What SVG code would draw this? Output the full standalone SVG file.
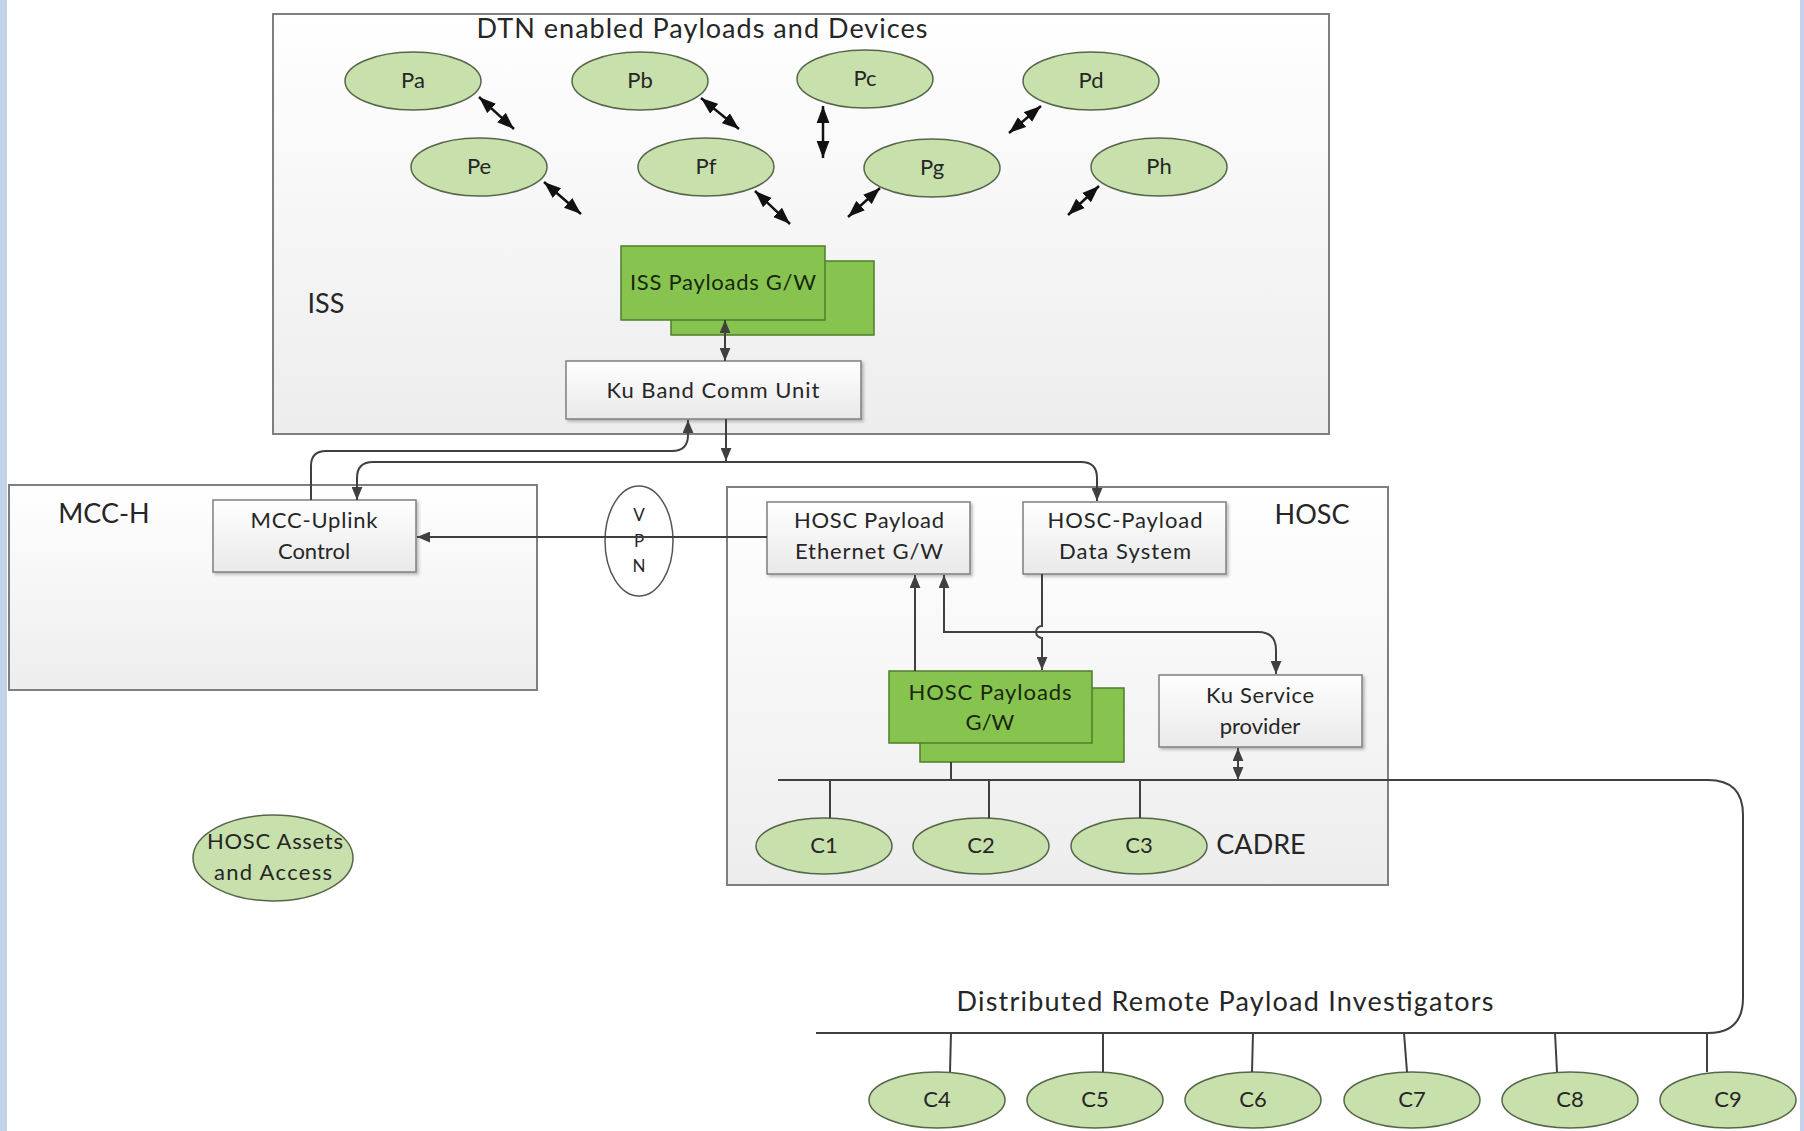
<svg xmlns="http://www.w3.org/2000/svg" width="1804" height="1131" viewBox="0 0 1804 1131">
<defs>
<linearGradient id="gCont" x1="0" y1="0" x2="0" y2="1"><stop offset="0" stop-color="#ffffff"/><stop offset="1" stop-color="#ededed"/></linearGradient>
<linearGradient id="gBox" x1="0" y1="0" x2="0" y2="1"><stop offset="0" stop-color="#ffffff"/><stop offset="1" stop-color="#e9e9e9"/></linearGradient>
<filter id="sh" x="-5%" y="-5%" width="115%" height="125%"><feDropShadow dx="2" dy="2" stdDeviation="1.5" flood-color="#000" flood-opacity="0.25"/></filter>
<marker id="ah" viewBox="0 0 12 10" refX="12" refY="5" markerWidth="13" markerHeight="11" markerUnits="userSpaceOnUse" orient="auto-start-reverse"><path d="M0,0 L12,5 L0,10 z" fill="#404040"/></marker>
<marker id="bh" viewBox="0 0 16 12" refX="16" refY="6" markerWidth="17" markerHeight="14" markerUnits="userSpaceOnUse" orient="auto-start-reverse"><path d="M0,0 L16,6 L0,12 z" fill="#111"/></marker>
<style>
text{font-family:Lato,"Liberation Sans",sans-serif;fill:#262626;text-anchor:middle}
.big{font-size:27px}
.lbl{font-size:22px}
.gtx{font-size:22px;fill:#1a2610}
.cont{fill:url(#gCont);stroke:#7f7f7f;stroke-width:2}
.box{fill:url(#gBox);stroke:#7f7f7f;stroke-width:1.5;filter:url(#sh)}
.green{fill:#86c44f;stroke:#4f7d2a;stroke-width:1.5}
.ell{fill:#c8e0ac;stroke:#55664a;stroke-width:1.5}
.conn{fill:none;stroke:#404040;stroke-width:2}
.dbl{fill:none;stroke:#111;stroke-width:2.5;marker-start:url(#bh);marker-end:url(#bh)}
</style>
</defs>
<rect x="0" y="0" width="1804" height="1131" fill="#ffffff"/>
<rect x="0" y="0" width="7" height="1131" fill="#c3d4ea"/>
<rect x="1800" y="0" width="4" height="1131" fill="#c3d4ea"/>

<g id="containers">
<g id="iss"><rect class="cont" x="273" y="14" width="1056" height="420"/>
<text class="big" x="702" y="38" textLength="451" lengthAdjust="spacing">DTN enabled Payloads and Devices</text>
<text class="big" x="326" y="313">ISS</text></g>
<g id="mcch"><rect class="cont" x="9" y="485" width="528" height="205"/>
<text class="big" x="104" y="523">MCC-H</text></g>
<g id="hosc"><rect class="cont" x="727" y="487" width="661" height="398"/>
<text class="big" x="1312" y="524">HOSC</text>
<text class="big" x="1261" y="854">CADRE</text></g>
</g>

<g id="nodes">
<g id="Pa"><ellipse class="ell" cx="413" cy="81" rx="68" ry="29"/><text class="lbl" x="413" y="88">Pa</text></g>
<g id="Pb"><ellipse class="ell" cx="640" cy="81" rx="68" ry="29"/><text class="lbl" x="640" y="88">Pb</text></g>
<g id="Pc"><ellipse class="ell" cx="865" cy="79" rx="68" ry="29"/><text class="lbl" x="865" y="86">Pc</text></g>
<g id="Pd"><ellipse class="ell" cx="1091" cy="81" rx="68" ry="29"/><text class="lbl" x="1091" y="88">Pd</text></g>
<g id="Pe"><ellipse class="ell" cx="479" cy="167" rx="68" ry="29"/><text class="lbl" x="479" y="174">Pe</text></g>
<g id="Pf"><ellipse class="ell" cx="706" cy="167" rx="68" ry="29"/><text class="lbl" x="706" y="174">Pf</text></g>
<g id="Pg"><ellipse class="ell" cx="932" cy="168" rx="68" ry="29"/><text class="lbl" x="932" y="175">Pg</text></g>
<g id="Ph"><ellipse class="ell" cx="1159" cy="167" rx="68" ry="29"/><text class="lbl" x="1159" y="174">Ph</text></g>

<g id="issgw"><rect class="green" x="671" y="261" width="203" height="74"/><rect class="green" x="621" y="246" width="204" height="74"/>
<text class="gtx" x="723" y="290" textLength="186" lengthAdjust="spacing">ISS Payloads G/W</text></g>
<g id="kuband"><rect class="box" x="566" y="361" width="295" height="58"/>
<text class="lbl" x="713" y="398" textLength="213" lengthAdjust="spacing">Ku Band Comm Unit</text></g>

<g id="mccup"><rect class="box" x="213" y="500" width="203" height="72"/>
<text class="lbl" x="314" y="528" textLength="127" lengthAdjust="spacing">MCC-Uplink</text>
<text class="lbl" x="314" y="559">Control</text></g>

<g id="vpn"><ellipse cx="639" cy="541" rx="34" ry="55" fill="#ffffff" stroke="#555" stroke-width="1.5"/>
<text x="639" y="521" style="font-size:17px">V</text>
<text x="639" y="547" style="font-size:17px">P</text>
<text x="639" y="572" style="font-size:17px">N</text></g>

<g id="hoscgw"><rect class="box" x="767" y="502" width="203" height="72"/>
<text class="lbl" x="869" y="528" textLength="150" lengthAdjust="spacing">HOSC Payload</text>
<text class="lbl" x="869" y="559" textLength="148" lengthAdjust="spacing">Ethernet G/W</text></g>
<g id="hoscpds"><rect class="box" x="1023" y="502" width="203" height="72"/>
<text class="lbl" x="1125" y="528" textLength="155" lengthAdjust="spacing">HOSC-Payload</text>
<text class="lbl" x="1125" y="559" textLength="132" lengthAdjust="spacing">Data System</text></g>
<g id="hoscpgw"><rect class="green" x="920" y="688" width="204" height="74"/><rect class="green" x="889" y="671" width="203" height="72"/>
<text class="gtx" x="990" y="700" textLength="163" lengthAdjust="spacing">HOSC Payloads</text>
<text class="gtx" x="990" y="730">G/W</text></g>
<g id="kusvc"><rect class="box" x="1159" y="675" width="203" height="72"/>
<text class="lbl" x="1260" y="703" textLength="108" lengthAdjust="spacing">Ku Service</text>
<text class="lbl" x="1260" y="734">provider</text></g>

<g id="C1"><ellipse class="ell" cx="824" cy="846" rx="68" ry="28"/><text class="lbl" x="824" y="853">C1</text></g>
<g id="C2"><ellipse class="ell" cx="981" cy="846" rx="68" ry="28"/><text class="lbl" x="981" y="853">C2</text></g>
<g id="C3"><ellipse class="ell" cx="1139" cy="846" rx="68" ry="28"/><text class="lbl" x="1139" y="853">C3</text></g>

<g id="assets"><ellipse class="ell" cx="273" cy="858" rx="80" ry="43"/>
<text class="lbl" x="275" y="849" textLength="136" lengthAdjust="spacing">HOSC Assets</text>
<text class="lbl" x="273" y="880" textLength="118" lengthAdjust="spacing">and Access</text></g>

<g id="C4"><ellipse class="ell" cx="937" cy="1100" rx="68" ry="28"/><text class="lbl" x="937" y="1107">C4</text></g>
<g id="C5"><ellipse class="ell" cx="1095" cy="1100" rx="68" ry="28"/><text class="lbl" x="1095" y="1107">C5</text></g>
<g id="C6"><ellipse class="ell" cx="1253" cy="1100" rx="68" ry="28"/><text class="lbl" x="1253" y="1107">C6</text></g>
<g id="C7"><ellipse class="ell" cx="1412" cy="1100" rx="68" ry="28"/><text class="lbl" x="1412" y="1107">C7</text></g>
<g id="C8"><ellipse class="ell" cx="1570" cy="1100" rx="68" ry="28"/><text class="lbl" x="1570" y="1107">C8</text></g>
<g id="C9"><ellipse class="ell" cx="1728" cy="1100" rx="68" ry="28"/><text class="lbl" x="1728" y="1107">C9</text></g>

<g id="drpi"><text class="big" x="1225" y="1011" textLength="537" lengthAdjust="spacing">Distributed Remote Payload Investigators</text></g>
</g>

<g id="connectors">
<line class="dbl" x1="479" y1="97" x2="514" y2="129"/>
<line class="dbl" x1="701" y1="98" x2="739" y2="129"/>
<line class="dbl" x1="823" y1="106" x2="823" y2="158"/>
<line class="dbl" x1="1041" y1="106" x2="1009" y2="133"/>
<line class="dbl" x1="544" y1="182" x2="581" y2="214"/>
<line class="dbl" x1="755" y1="191" x2="790" y2="224"/>
<line class="dbl" x1="880" y1="188" x2="848" y2="217"/>
<line class="dbl" x1="1099" y1="186" x2="1068" y2="215"/>

<line class="conn" x1="725" y1="320" x2="725" y2="361" marker-start="url(#ah)" marker-end="url(#ah)"/>
<line class="conn" x1="726" y1="419" x2="726" y2="461" marker-end="url(#ah)"/>
<path class="conn" d="M311,500 V466 Q311,451 326,451 H672 Q688,451 688,435 V420" marker-end="url(#ah)"/>
<path class="conn" d="M357,500 V478 Q357,462 373,462 H1081 Q1097,462 1097,478 V501" marker-start="url(#ah)" marker-end="url(#ah)"/>
<line class="conn" x1="767" y1="537" x2="417" y2="537" marker-end="url(#ah)"/>
<line class="conn" x1="915" y1="671" x2="915" y2="575" marker-end="url(#ah)"/>
<path class="conn" d="M944,575 V632 H1258 Q1276,632 1276,650 V674" marker-start="url(#ah)" marker-end="url(#ah)"/>
<path class="conn" d="M1042,574 V626 A6,6 0 0 0 1042,638 V670" marker-end="url(#ah)"/>
<line class="conn" x1="1238" y1="748" x2="1238" y2="780" marker-start="url(#ah)" marker-end="url(#ah)"/>

<path class="conn" d="M778,780 H1708 Q1743,780 1743,815 V998 Q1743,1033 1708,1033 H816"/>
<line class="conn" x1="951" y1="762" x2="951" y2="780"/>
<line class="conn" x1="830" y1="780" x2="830" y2="818"/>
<line class="conn" x1="989" y1="780" x2="989" y2="818"/>
<line class="conn" x1="1140" y1="780" x2="1140" y2="818"/>
<line class="conn" x1="951" y1="1033" x2="950" y2="1072"/>
<line class="conn" x1="1103" y1="1033" x2="1103" y2="1072"/>
<line class="conn" x1="1253" y1="1033" x2="1252" y2="1072"/>
<line class="conn" x1="1404" y1="1033" x2="1407" y2="1072"/>
<line class="conn" x1="1555" y1="1033" x2="1557" y2="1072"/>
<line class="conn" x1="1707" y1="1033" x2="1707" y2="1072"/>
</g>
</svg>
